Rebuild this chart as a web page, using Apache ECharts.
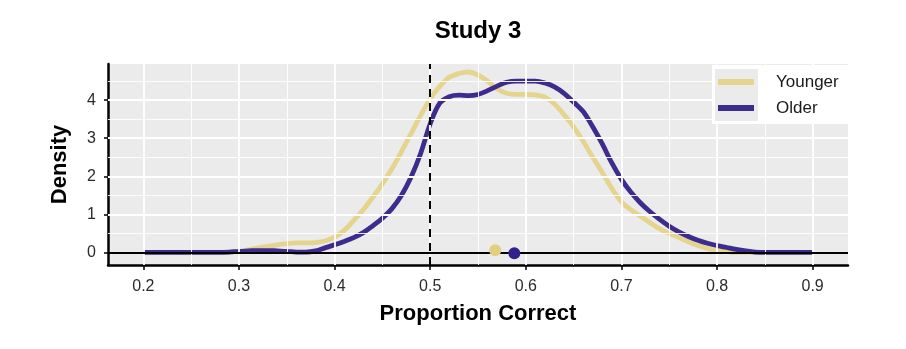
<!DOCTYPE html>
<html>
<head>
<meta charset="utf-8">
<script src="https://cdn.jsdelivr.net/npm/echarts@6/dist/echarts.min.js"></script>
<style>html,body{margin:0;padding:0;background:#fff;}#c{width:906px;height:349px;}</style>
</head>
<body>
<div id="c"></div>
<script>
const chartTitle = 'Study 3';
const xTitle = 'Proportion Correct';
const yTitle = 'Density';
const seriesNames = ['Younger', 'Older'];
const xs = [0.20,0.21,0.22,0.23,0.24,0.25,0.26,0.27,0.28,0.29,0.30,0.31,0.32,0.33,0.34,0.35,0.36,0.37,0.38,0.39,0.40,0.41,0.42,0.43,0.44,0.45,0.46,0.47,0.48,0.49,0.50,0.51,0.52,0.53,0.54,0.55,0.56,0.57,0.58,0.59,0.60,0.61,0.62,0.63,0.64,0.65,0.66,0.67,0.68,0.69,0.70,0.71,0.72,0.73,0.74,0.75,0.76,0.77,0.78,0.79,0.80,0.81,0.82,0.83,0.84,0.85,0.86,0.87,0.88,0.89,0.90];
const younger = [0,0,0,0,0,0,0,0,0,0.01,0.03,0.07,0.12,0.16,0.20,0.23,0.25,0.25,0.26,0.30,0.40,0.58,0.84,1.12,1.45,1.80,2.20,2.65,3.12,3.60,4.03,4.36,4.60,4.70,4.74,4.66,4.50,4.30,4.18,4.15,4.15,4.14,4.08,3.90,3.62,3.30,2.92,2.50,2.10,1.68,1.33,1.12,0.95,0.78,0.62,0.50,0.39,0.28,0.18,0.10,0.05,0.02,0,0,0,0,0,0,0,0,0];
const older = [0,0,0,0,0,0,0,0,0,0.01,0.03,0.04,0.05,0.05,0.04,0.03,0.01,0.01,0.04,0.12,0.20,0.29,0.39,0.52,0.70,0.90,1.15,1.50,1.98,2.60,3.38,3.92,4.09,4.13,4.12,4.15,4.25,4.37,4.47,4.50,4.50,4.50,4.45,4.35,4.18,3.95,3.70,3.30,2.85,2.35,1.92,1.58,1.30,1.07,0.87,0.69,0.54,0.42,0.32,0.24,0.18,0.13,0.08,0.04,0.01,0,0,0,0,0,0];
const meanPoints = { Younger: [0.568, 0.06], Older: [0.588, -0.02] };
const xTicks = [0.2,0.3,0.4,0.5,0.6,0.7,0.8,0.9];
const xMinor = [0.25,0.35,0.45,0.55,0.65,0.75,0.85];
const yTicks = [0,1,2,3,4];
const yMinor = [0.5,1.5,2.5,3.5,4.5];
const refX = 0.5;
const refY = 0;

const colors = { Younger: '#E4D48E', Older: '#3D2C8D' };
const pointColors = { Younger: '#E2D07F', Older: '#30228A' };
const FONT = '"Liberation Sans", Arial, sans-serif';

const chart = echarts.init(document.getElementById('c'), null, { renderer: 'canvas' });

const gridLines = [];
xTicks.forEach(v => gridLines.push({ xAxis: v, lineStyle: { color: '#fff', width: 1.8, type: 'solid' } }));
xMinor.forEach(v => gridLines.push({ xAxis: v, lineStyle: { color: '#fff', width: 0.9, type: 'solid' } }));
yTicks.forEach(v => gridLines.push({ yAxis: v, lineStyle: { color: '#fff', width: 1.8, type: 'solid' } }));
yMinor.forEach(v => gridLines.push({ yAxis: v, lineStyle: { color: '#fff', width: 0.9, type: 'solid' } }));

const densities = { Younger: younger, Older: older };

const series = [
  {
    type: 'line', name: '_grid', data: [], z: 1, silent: true,
    markLine: { silent: true, symbol: ['none', 'none'], label: { show: false }, data: gridLines, animation: false }
  },
  {
    type: 'line', name: '_zero', data: [], z: 1, silent: true,
    markLine: { silent: true, symbol: ['none', 'none'], label: { show: false }, animation: false,
      data: [{ yAxis: refY, lineStyle: { color: '#000', width: 2, type: 'solid' } }] }
  }
];
seriesNames.forEach(n => {
  series.push({
    type: 'line', name: n, z: 3, smooth: 0.35, showSymbol: false, symbol: 'none',
    data: xs.map((x, i) => [x, densities[n][i]]),
    lineStyle: { color: colors[n], width: 4.8 },
    itemStyle: { color: colors[n] }
  });
});
series.push({
  type: 'line', name: '_ref', data: [], z: 4, silent: true,
  markLine: { silent: true, symbol: ['none', 'none'], label: { show: false }, animation: false,
    data: [{ xAxis: refX, lineStyle: { color: '#000', width: 2, type: [8, 6] } }] }
});
seriesNames.forEach(n => {
  series.push({
    type: 'scatter', name: n + ' mean', z: 5, symbolSize: 12,
    data: [meanPoints[n]], itemStyle: { color: pointColors[n], opacity: 1 }
  });
});

const option = {
  animation: false,
  backgroundColor: '#ffffff',
  title: {
    text: chartTitle, left: 478, top: 19, textAlign: 'center', padding: 0,
    textStyle: { fontFamily: FONT, fontSize: 24, fontWeight: 'bold', color: '#000' }
  },
  grid: { left: 108, right: 58, top: 64, bottom: 84, show: true, backgroundColor: '#EBEBEB', borderWidth: 0, containLabel: false },
  legend: {
    z: 30,
    data: seriesNames.map(n => ({ name: n, icon: 'rect', itemStyle: { color: colors[n], borderWidth: 0 } })),
    orient: 'vertical', left: 718, top: 72, padding: 0,
    itemWidth: 36, itemHeight: 6, itemGap: 6, selectedMode: false,
    lineStyle: { width: 0, opacity: 0 },
    textStyle: { fontFamily: FONT, fontSize: 17, lineHeight: 20, color: '#1a1a1a', padding: [0, 0, 0, 17] }
  },
  graphic: [
    { type: 'rect', z: 20, z2: 0, shape: { x: 712, y: 65, width: 136, height: 59 }, style: { fill: '#ffffff' }, silent: true },
    { type: 'rect', z: 20, z2: 1, shape: { x: 715, y: 69, width: 43, height: 52 }, style: { fill: '#EBEBEB' }, silent: true }
  ],
  xAxis: {
    type: 'value', min: 0.163, max: 0.937,
    name: xTitle, nameLocation: 'middle', nameGap: 38,
    nameTextStyle: { fontFamily: FONT, fontSize: 22, fontWeight: 'bold', color: '#000' },
    axisLine: { show: true, onZero: false, lineStyle: { color: '#000', width: 2.5 } },
    axisTick: { show: true, customValues: xTicks, length: 5, lineStyle: { color: '#000', width: 1.5 } },
    axisLabel: { show: true, customValues: xTicks, margin: 14, fontFamily: FONT, fontSize: 16, color: '#2b2b2b',
      formatter: v => Number(v).toFixed(1) },
    splitLine: { show: false }
  },
  yAxis: {
    type: 'value', min: -0.33, max: 4.95,
    name: yTitle, nameLocation: 'middle', nameGap: 37, nameRotate: 90,
    nameTextStyle: { fontFamily: FONT, fontSize: 22, fontWeight: 'bold', color: '#000' },
    axisLine: { show: true, onZero: false, lineStyle: { color: '#000', width: 2.5 } },
    axisTick: { show: true, customValues: yTicks, length: 4, lineStyle: { color: '#000', width: 1.5 } },
    axisLabel: { show: true, customValues: yTicks, margin: 12, fontFamily: FONT, fontSize: 16, color: '#2b2b2b',
      formatter: v => String(Math.round(v)) },
    splitLine: { show: false }
  },
  series: series
};
chart.setOption(option);
</script>
</body>
</html>
